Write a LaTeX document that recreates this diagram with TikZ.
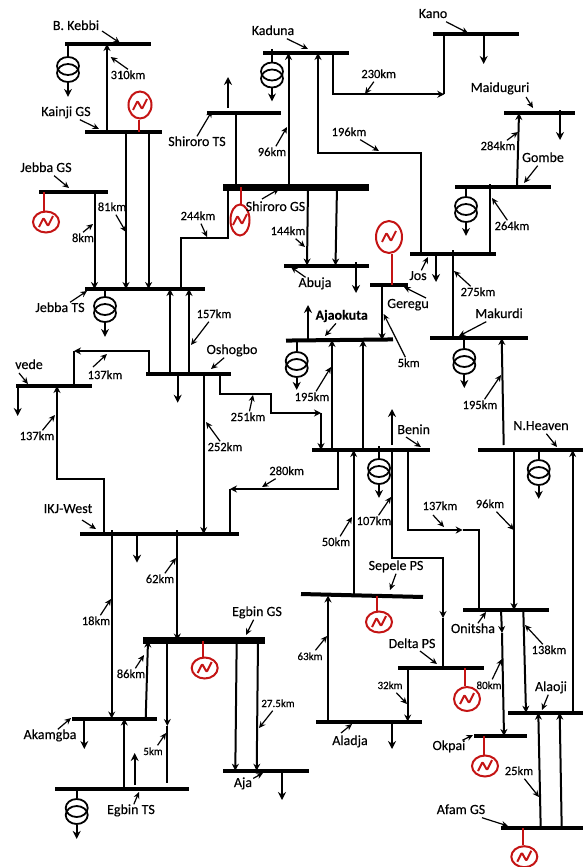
\documentclass[tikz,border=0pt]{standalone}
\usepackage{fontspec}
\setmainfont{Carlito}[FakeBold=0.25]
\usepackage{xcolor}
\usetikzlibrary{arrows.meta, shapes.geometric}
\definecolor{genred}{RGB}{196,20,20}
\tikzset{
  pics/xfmr/.style={code={
    \node[coil] (-a) at (0,-3.5) {};
    \node[coil] (-b) at (0,3.5) {};
  }},
}
\begin{document}
\begin{tikzpicture}[
    x=1pt, y=-1pt,
    bus/.style={fill=black, inner sep=0pt, outer sep=0pt, minimum height=4pt},
    thickbus/.style={bus, minimum height=7pt},
    feeder/.style={line width=2pt},
    ftip/.style={feeder, -{Stealth[length=7pt, width=7pt]}},
    load/.style={line width=2pt, -{Stealth[length=8pt, width=8pt]}},
    lead/.style={line width=1.2pt, -{Stealth[length=6.5pt, width=6pt]}},
    lbl/.style={font=\fontsize{12.5}{13}\selectfont, inner sep=1pt, text height=8.5pt, text depth=2.5pt},
    nlbl/.style={lbl, font=\fontsize{14}{15}\selectfont},
    small/.style={lbl, font=\fontsize{11}{12}\selectfont},
    coil/.style={ellipse, draw, line width=1.8pt, inner sep=0pt, minimum width=22pt, minimum height=18pt},
    gen/.style={ellipse, draw=genred, line width=2pt, inner sep=0pt, minimum width=26pt, minimum height=21pt,
      path picture={\draw[genred, line width=2pt, line join=round, rounded corners=1pt, shift={(path picture bounding box.center)}] (-7,5) -- (-2.5,-4) -- (2,4) -- (7,-6);}},
    genline/.style={genred, line width=2pt},
  ]
  \useasboundingbox (0,0) rectangle (582,867);

  \node[bus, minimum width=86pt] (kebbi) at (108,44) {};
  \node[bus, minimum width=77pt, minimum height=4.5pt] (kainji) at (123.5,132) {};
  \node[bus, minimum width=69pt] (jebbags) at (73.5,192) {};
  \node[bus, minimum width=120pt] (jebbats) at (145,289) {};
  \node[bus, minimum width=74pt] (shirorots) at (244,113) {};
  \node[thickbus, minimum width=146pt] (shirorogs) at (296,187) {};
  \node[bus, minimum width=86pt] (kaduna) at (306,53) {};
  \node[bus, minimum width=86pt] (kano) at (476,34) {};
  \node[bus, minimum width=71pt] (maiduguri) at (539.5,113) {};
  \node[bus, minimum width=96pt] (gombe) at (503,187) {};
  \node[bus, minimum width=86pt] (jos) at (453,254) {};
  \node[bus, minimum width=85pt] (abuja) at (326.5,265.5) {};
  \node[bus, minimum width=38pt] (geregu) at (389,285) {};
  \node[bus, minimum width=107pt, rotate=0.6] (ajaokuta) at (339.5,340) {};
  \node[bus, minimum width=98pt] (makurdi) at (479,338) {};
  \node[bus, minimum width=85pt] (oshogbo) at (188.5,374) {};
  \node[bus, minimum width=76pt] (ayede) at (54,386) {};
  \node[bus, minimum width=159pt] (ikj) at (159.5,534) {};
  \node[bus, minimum width=118pt] (benin) at (371,450) {};
  \node[bus, minimum width=106pt] (nheaven) at (531,450) {};
  \node[bus, minimum width=122pt, rotate=-1.4] (sepele) at (362,595.5) {};
  \node[thickbus, minimum width=122pt] (egbings) at (204,640.5) {};
  \node[bus, minimum width=85pt] (akamgba) at (114.5,718.5) {};
  \node[bus, minimum width=134pt] (egbints) at (122,788.5) {};
  \node[bus, minimum width=86pt] (aja) at (266,770.7) {};
  \node[bus, minimum width=106pt] (aladja) at (369,721.5) {};
  \node[bus, minimum width=86pt] (deltaps) at (441,668) {};
  \node[bus, minimum width=86pt] (onitsha) at (506,610) {};
  \node[bus, minimum width=76pt] (alaoji) at (546,712.7) {};
  \node[bus, minimum width=53pt] (okpai) at (500.5,736) {};
  \node[bus, minimum width=83pt] (afam) at (542.5,828) {};

  \node[gen, minimum width=23pt, minimum height=27pt] (gkainji) at (140,105) {};
  \node[gen] (gjebba) at (46,222) {};
  \node[gen, minimum width=19pt, minimum height=31pt] (gshiroro) at (240,220) {};
  \node[gen, minimum height=32pt] (ggeregu) at (389,237) {};
  \node[gen] (gsepele) at (379,622) {};
  \node[gen] (gegbin) at (204.7,668) {};
  \node[gen, minimum height=24pt] (gdelta) at (467,699) {};
  \node[gen] (gokpai) at (485,766) {};
  \node[gen] (gafam) at (524.3,856.7) {};
  \draw[genline] (139,0 |- kainji) -- (139,0 |- gkainji.south);
  \draw[genline] (44,0 |- jebbags) -- (44,0 |- gjebba.north);
  \draw[genline] (241,0 |- shirorogs) -- (241,0 |- gshiroro.north);
  \draw[genline] (392,0 |- geregu) -- (392,0 |- ggeregu.south);
  \draw[genline] (377,0 |- sepele) -- (377,0 |- gsepele.north);
  \draw[genline] (202.7,0 |- egbings) -- (202.7,0 |- gegbin.north);
  \draw[genline] (464.7,0 |- deltaps) -- (464.7,0 |- gdelta.north);
  \draw[genline] (483.7,0 |- okpai) -- (483.7,0 |- gokpai.north);
  \draw[genline] (522.7,0 |- afam) -- (522.7,0 |- gafam.north);

  \pic (xkebbi) at (68,69.5) {xfmr};
  \pic (xkaduna) at (272,75) {xfmr};
  \pic (xgombe) at (466,209.5) {xfmr};
  \pic (xjebba) at (105,309.5) {xfmr};
  \pic (xajaokuta) at (296.7,364.5) {xfmr};
  \pic (xmakurdi) at (464.3,361.5) {xfmr};
  \pic (xbenin) at (379,471.5) {xfmr};
  \pic (xnheaven) at (538.7,472.5) {xfmr};
  \pic (xegbints) at (76.7,811.5) {xfmr};
  \draw[feeder] (xkebbi-a |- kebbi) -- (xkebbi-a);
  \draw[load] (xkebbi-b.south) -- ++(0,14);
  \draw[feeder] (xkaduna-a |- kaduna) ++(0,-4) -- (xkaduna-a);
  \draw[load] (xkaduna-b.south) -- ++(0,13);
  \draw[feeder] (xgombe-a |- gombe) -- (xgombe-a);
  \draw[load] (xgombe-b.south) -- ++(0,13);
  \draw[feeder] (xjebba-a |- jebbats) -- (xjebba-a);
  \draw[load] (xjebba-b.south) -- ++(0,14);
  \draw[feeder] (xajaokuta-a |- ajaokuta) -- (xajaokuta-a);
  \draw[load] (xajaokuta-b.south) -- ++(0,12);
  \draw[feeder] (xmakurdi-a |- makurdi) -- (xmakurdi-a);
  \draw[load] (xmakurdi-b.south) -- ++(0,13);
  \draw[feeder] (xbenin-a |- benin) ++(0,-4) -- (xbenin-a);
  \draw[load] (xbenin-b.south) -- ++(0,13);
  \draw[feeder] (xnheaven-a |- nheaven) -- (xnheaven-a);
  \draw[load] (xnheaven-b.south) -- ++(0,13);
  \draw[feeder] (xegbints-a |- egbints) -- (xegbints-a);
  \draw[load] (xegbints-b.south) -- ++(0,14);

  \draw[load] (228,108) -- (228,77);
  \draw[load] (308,0 |- ajaokuta) -- (308,305);
  \draw[load] (392,445) -- (392,409);
  \draw[load] (134.7,785) -- (134.7,753);
  \draw[load] (483.7,0 |- kano) -- (483.7,64);
  \draw[load] (560,110) -- (560,140);
  \draw[load] (436,0 |- jos) -- (436,282);
  \draw[load] (356,262) -- (356,293);
  \draw[load] (177.7,0 |- oshogbo) -- (177.7,402.7);
  \draw[load] (17.7,0 |- ayede) -- (17.7,416);
  \draw[load] (137,0 |- ikj) -- (137,562.7);
  \draw[load] (282,0 |- aja) -- (282,800);
  \draw[load] (84.3,0 |- akamgba) -- (84.3,749);
  \draw[load] (392,0 |- aladja) -- (392,749);

  \draw[ftip] (107,0 |- kainji) -- (107,0 |- kebbi);
  \draw[ftip] (126,0 |- kainji) -- (126,0 |- jebbats);
  \draw[ftip] (148.6,0 |- kainji) -- (148.6,0 |- jebbats);
  \draw[ftip] (94.5,0 |- jebbags) -- (94.5,0 |- jebbats);
  \draw[feeder] (236,0 |- shirorots) -- (236,0 |- shirorogs);
  \draw[ftip] (288.5,0 |- shirorogs) -- (288.5,0 |- kaduna);
  \draw[feeder] (181,0 |- jebbats) |- (228,237.7) -- (228,0 |- shirorogs);
  \draw[ftip] (308,0 |- shirorogs) -- (307,0 |- abuja);
  \draw[ftip] (337,0 |- shirorogs) -- (335.5,0 |- abuja);
  \draw[ftip] (420.7,0 |- jos) |- (318,153) -- (318,0 |- kaduna);
  \coordinate (ckano) at (444.3,94.3);
  \draw[ftip] (333.3,0 |- kaduna) |- (ckano);
  \draw[feeder] (ckano) -- (444.3,0 |- kano);
  \draw[ftip] (517,0 |- gombe) -- (519,0 |- maiduguri);
  \draw[feeder] (490,0 |- jos) -- (490,184);
  \draw[feeder] (452.7,250) -- (452.7,0 |- makurdi);
  \draw[ftip] (382,0 |- geregu) -- (382,0 |- ajaokuta);
  \draw[ftip] (332,0 |- benin) -- (332,0 |- ajaokuta);
  \draw[ftip] (363,0 |- benin) -- (363,0 |- ajaokuta);
  \coordinate (cbenin) at (321,413);
  \draw[feeder] (220,0 |- oshogbo) |- (270.7,394) |- (310,413);
  \draw[ftip] (310,413) -- (cbenin);
  \draw[ftip] (cbenin) -- (321,0 |- benin);
  \coordinate (cikj) at (230,489);
  \draw[ftip] (337.7,0 |- benin) |- (cikj);
  \draw[feeder] (cikj) -- (230,0 |- ikj);
  \draw[ftip] (170,0 |- oshogbo) -- (170,0 |- jebbats);
  \draw[ftip] (189,0 |- oshogbo) -- (189,0 |- jebbats);
  \coordinate (cayede) at (74,351);
  \draw[ftip] (149,0 |- oshogbo) |- (cayede);
  \draw[feeder] (cayede) -- (74,0 |- ayede);
  \draw[ftip] (104,0 |- ikj) |- (57,479) -- (57,0 |- ayede);
  \draw[ftip] (203.7,0 |- oshogbo) -- (203.7,0 |- ikj);
  \draw[ftip] (111.7,530) -- (111.7,0 |- akamgba);
  \draw[ftip] (177.3,530) -- (177.3,0 |- egbings);
  \draw[ftip] (145.7,0 |- akamgba) -- (148,0 |- egbings);
  \coordinate (cegbints) at (167.3,726);
  \draw[ftip] (167.3,0 |- egbings) -- (cegbints);
  \draw[feeder] (cegbints) -- (167.3,783);
  \draw[ftip] (236.7,0 |- egbings) -- (235.3,0 |- aja);
  \draw[ftip] (258,0 |- egbings) -- (256.7,0 |- aja);
  \draw[ftip] (124.3,0 |- egbints) -- (124.3,0 |- akamgba);
  \draw[ftip] (353.7,0 |- sepele) -- (353.7,0 |- benin);
  \draw[ftip] (328,0 |- aladja) -- (328,0 |- sepele);
  \coordinate (cdelta) at (443,618);
  \draw[feeder] (392,0 |- benin) |- (443,557.7) -- (443,612);
  \draw[ftip] (443,612) -- (cdelta);
  \draw[feeder] (cdelta) -- (443,0 |- deltaps);
  \coordinate (conitsha) at (462.7,530);
  \draw[ftip] (408,0 |- benin) |- (conitsha);
  \draw[feeder] (conitsha) -| (478.7,0 |- onitsha);
  \draw[ftip] (503.7,445) -- (501.7,0 |- makurdi);
  \draw[ftip] (514,0 |- nheaven) -- (514,0 |- onitsha);
  \draw[ftip] (572.7,0 |- alaoji) -- (572.7,0 |- nheaven);
  \coordinate (cokpai) at (502,633);
  \draw[ftip] (501,0 |- onitsha) -- (cokpai);
  \draw[ftip] (cokpai) -- (504,0 |- okpai);
  \draw[ftip] (523.3,0 |- onitsha) -- (526,0 |- alaoji);
  \draw[ftip] (407.7,0 |- deltaps) -- (407.7,0 |- aladja);
  \draw[ftip] (540.7,0 |- afam) -- (538.3,0 |- alaoji);
  \draw[ftip] (561.7,0 |- afam) -- (559.7,0 |- alaoji);

  \node[nlbl] (lkebbi) at (76,27) {B. Kebbi}; \coordinate (tkebbi) at (120,43); \draw[lead] (102,31) -- (tkebbi);
  \node[lbl] (l310) at (128,76) {310km}; \coordinate (t310) at (110.7,57); \draw[lead] (l310.north) -- (t310);
  \node[nlbl] (lkainji) at (66,113) {Kainji GS}; \coordinate (tkainji) at (99,129); \draw[lead] (lkainji) -- (tkainji);
  \node[nlbl] (ljebbags) at (46,169) {Jebba GS}; \coordinate (tjebbags) at (69,188); \draw[lead] (ljebbags) -- (tjebbags);
  \node[lbl] (l81) at (112,208) {81km}; \coordinate (t81) at (126,232); \draw[lead] (l81) -- (t81);
  \node[lbl] (l8) at (83,239) {8km}; \coordinate (t8) at (93,224); \draw[lead] (l8.north) -- (t8);
  \node[nlbl] (ljebbats) at (60,309) {Jebba TS}; \coordinate (tjebbats) at (87,291); \draw[lead] (ljebbats) -- (tjebbats);
  \node[nlbl] (lshirorots) at (197,143) {Shiroro TS}; \coordinate (tshirorots) at (212,111); \draw[lead] (lshirorots.north) -- (tshirorots);
  \node[nlbl] (lkaduna) at (273,32) {Kaduna}; \coordinate (tkaduna) at (308,49); \draw[lead] (lkaduna) -- (tkaduna);
  \node[lbl] (l96a) at (272,153) {96km}; \coordinate (t96a) at (287,127); \draw[lead] (l96a) -- (t96a);
  \node[nlbl] (lshirorogs) at (275.5,208) {Shiroro GS}; \coordinate (tshirorogs) at (279,189); \draw[lead] (262,199) -- (tshirorogs);
  \node[lbl] (l244) at (198,217) {244km}; \coordinate (t244) at (207,237); \draw[lead] (l244) -- (t244);
  \node[lbl] (l144) at (288,232) {144km}; \coordinate (t144) at (305,247); \draw[lead] (l144) -- (t144);
  \node[lbl] (l230) at (378.7,75) {230km}; \coordinate (t230) at (365,94); \draw[lead] (l230) -- (t230);
  \node[lbl] (l196) at (349,133) {196km}; \coordinate (t196) at (379,151); \draw[lead] (l196) -- (t196);
  \node[nlbl] (lkano) at (433,15) {Kano}; \coordinate (tkano) at (468,33); \draw[lead] (lkano) -- (tkano);
  \node[nlbl] (lmaiduguri) at (500,89) {Maiduguri}; \coordinate (tmaiduguri) at (533,108); \draw[lead] (526,97) -- (tmaiduguri);
  \node[lbl] (l284) at (498,147) {284km}; \coordinate (t284) at (518,132); \draw[lead] (l284) -- (t284);
  \node[nlbl] (lgombe) at (543,159) {Gombe}; \coordinate (tgombe) at (524,183); \draw[lead] (lgombe) -- (tgombe);
  \node[lbl] (l264) at (512,227) {264km}; \coordinate (t264) at (492,198); \draw[lead] (l264) -- (t264);
  \node[lbl] (l275) at (478,293) {275km}; \coordinate (t275) at (454,271); \draw[lead] (l275) -- (t275);
  \node[nlbl] (ljos) at (418,277) {Jos}; \coordinate (tjos) at (428,257); \draw[lead] (ljos) -- (tjos);
  \node[nlbl] (labuja) at (315,284) {Abuja}; \coordinate (tabuja) at (291,267); \draw[lead] (labuja) -- (tabuja);
  \node[nlbl] (lgeregu) at (408,305) {Geregu}; \coordinate (tgeregu) at (404,287); \draw[lead] (426,298) -- (tgeregu);
  \node[lbl] (l5a) at (408.7,364) {5km}; \coordinate (t5a) at (383.7,314); \draw[lead] (l5a) -- (t5a);
  \node[nlbl, font=\fontsize{14}{15}\selectfont\bfseries] (lajaokuta) at (341.7,316.7) {Ajaokuta}; \coordinate (tajaokuta) at (325,336); \draw[lead] (lajaokuta) -- (tajaokuta);
  \node[nlbl] (lmakurdi) at (499,315) {Makurdi}; \coordinate (tmakurdi) at (459,336); \draw[lead] (lmakurdi) -- (tmakurdi);
  \node[lbl] (l195a) at (312,398) {195km}; \coordinate (t195a) at (331,367); \draw[lead] (l195a) -- (t195a);
  \node[lbl] (l195b) at (480,406) {195km}; \coordinate (t195b) at (501,375); \draw[lead] (l195b) -- (t195b);
  \node[nlbl] (lbenin) at (413.7,431) {Benin}; \coordinate (tbenin) at (421,447); \draw[lead] (406,437) -- (tbenin);
  \node[nlbl] (lnheaven) at (541,427) {N.Heaven}; \coordinate (tnheaven) at (557,447); \draw[lead] (lnheaven) -- (tnheaven);
  \node[lbl] (l157) at (214,315) {157km}; \coordinate (t157) at (191,345); \draw[lead] (l157) -- (t157);
  \node[nlbl] (loshogbo) at (232,351) {Oshogbo}; \coordinate (toshogbo) at (211,369); \draw[lead] (loshogbo) -- (toshogbo);
  \node[lbl] (l137a) at (105,376) {137km}; \coordinate (t137a) at (107,354); \draw[lead] (93,367) -- (t137a);
  \node[nlbl] (layede) at (29,366) {vede}; \coordinate (tayede) at (28,384); \draw[lead] (19,373) -- (tayede);
  \node[lbl] (l137b) at (37,437) {137km}; \coordinate (t137b) at (55,415); \draw[lead] (l137b) -- (t137b);
  \node[lbl] (l251) at (248,418) {251km}; \coordinate (t251) at (253,395); \draw[lead] (l251) -- (t251);
  \node[lbl] (l252) at (225,448) {252km}; \coordinate (t252) at (206,422); \draw[lead] (l252) -- (t252);
  \node[lbl] (l280) at (286.7,472) {280km}; \coordinate (t280) at (262,487); \draw[lead] (l280) -- (t280);
  \node[nlbl] (likj) at (68,510) {IKJ-West}; \coordinate (tikj) at (96,529); \draw[lead] (82,520) -- (tikj);
  \node[lbl] (l62) at (160,580) {62km}; \coordinate (t62) at (176,558); \draw[lead] (l62) -- (t62);
  \node[lbl] (l107) at (374,522) {107km}; \coordinate (t107) at (391,497); \draw[lead] (l107) -- (t107);
  \node[lbl] (l50) at (336,543) {50km}; \coordinate (t50) at (352,517); \draw[lead] (l50) -- (t50);
  \node[lbl] (l137c) at (440,507) {137km}; \coordinate (t137c) at (444,527); \draw[lead] (433,515) -- (t137c);
  \node[lbl] (l96b) at (490,505) {96km}; \coordinate (t96b) at (514,530); \draw[lead] (l96b) -- (t96b);
  \node[nlbl] (lsepele) at (396,567) {Sepele PS}; \coordinate (tsepele) at (390,590); \draw[lead] (lsepele.south) -- (tsepele);
  \node[lbl] (l18) at (96,622) {18km}; \coordinate (t18) at (111,599); \draw[lead] (l18) -- (t18);
  \node[nlbl] (legbingss) at (257,613) {Egbin GS}; \coordinate (tegbingss) at (246,635); \draw[lead] (legbingss) -- (tegbingss);
  \node[lbl] (l86) at (131,675) {86km}; \coordinate (t86) at (144,655); \draw[lead] (l86) -- (t86);
  \node[small] (l275b) at (278,704) {27.5km}; \coordinate (t275b) at (259,728); \draw[lead] (l275b) -- (t275b);
  \node[nlbl] (lakamgba) at (50,736) {Akamgba}; \coordinate (takamgba) at (71,718); \draw[lead] (lakamgba) -- (takamgba);
  \node[small] (l5b) at (153,752) {5km}; \coordinate (t5b) at (166,733); \draw[lead] (l5b) -- (t5b);
  \node[nlbl] (legbints) at (131,811) {Egbin TS}; \coordinate (tegbints) at (139,792); \draw[lead] (legbints) -- (tegbints);
  \node[nlbl] (laja) at (243,784) {Aja}; \coordinate (taja) at (263,773); \draw[lead] (laja) -- (taja);
  \node[small] (l63) at (310,657) {63km}; \coordinate (t63) at (327,636); \draw[lead] (l63) -- (t63);
  \node[nlbl] (laladja) at (350,742) {Aladja}; \coordinate (taladja) at (352,724); \draw[lead] (341,733) -- (taladja);
  \node[small] (l32) at (390,686) {32km}; \coordinate (t32) at (407,704); \draw[lead] (l32) -- (t32);
  \node[nlbl] (ldeltaps) at (412,645) {Delta PS}; \coordinate (tdeltaps) at (437,664); \draw[lead] (420,651) -- (tdeltaps);
  \node[nlbl] (lonitsha) at (473,630) {Onitsha}; \coordinate (tonitsha) at (486,612); \draw[lead] (lonitsha) -- (tonitsha);
  \node[lbl] (l138) at (549,651) {138km}; \coordinate (t138) at (525,625); \draw[lead] (l138) -- (t138);
  \node[small] (l80) at (489,686) {80km}; \coordinate (t80) at (502,659); \draw[lead] (l80) -- (t80);
  \node[nlbl] (lalaoji) at (551,688) {Alaoji}; \coordinate (talaoji) at (542,710); \draw[lead] (lalaoji) -- (talaoji);
  \node[nlbl] (lokpai) at (449,747) {Okpai}; \coordinate (tokpai) at (473,735); \draw[lead] (lokpai) -- (tokpai);
  \node[lbl] (l25) at (519,772) {25km}; \coordinate (t25) at (539,797); \draw[lead] (l25) -- (t25);
  \node[nlbl] (lafam) at (461,811) {Afam GS}; \coordinate (tafam) at (508,826); \draw[lead] (lafam) -- (tafam);
\end{tikzpicture}
\end{document}
